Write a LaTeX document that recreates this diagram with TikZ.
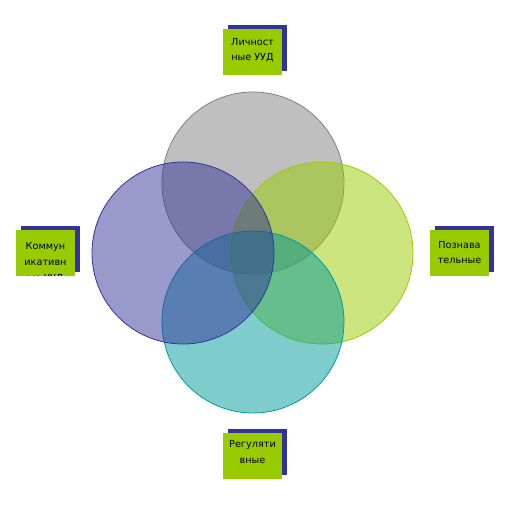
\documentclass[tikz,border=0pt]{standalone}
\usepackage{fontspec}
\setmainfont{DejaVu Sans}
\usetikzlibrary{shadows}
\definecolor{uudgreen}{RGB}{153,204,0}
\definecolor{uudblue}{RGB}{51,51,153}
\definecolor{uudteal}{RGB}{0,153,153}
\definecolor{uudgray}{RGB}{128,128,128}
\begin{document}
\begin{tikzpicture}[x=1pt, y=-1pt,
    ring/.style={line width=0.8pt, fill opacity=0.5},
    uudbox/.style={fill=uudgreen, minimum width=59pt, minimum height=46pt, inner sep=0pt,
        drop shadow={shadow xshift=4.5pt, shadow yshift=4pt, fill=uudblue, opacity=1}},
    uudtext/.style={font=\fontsize{9.7}{15.5}\selectfont, align=center, inner sep=0pt}]
    \useasboundingbox (0,0) rectangle (507,507);

    % --- Centres of the four circles ---
    \coordinate (T) at (253,183);
    \coordinate (L) at (183,253);
    \coordinate (R) at (322,253);
    \coordinate (B) at (253,322);

    % --- Four translucent circles ---
    \draw[ring, draw=uudgray, fill=uudgray] (T) circle [radius=91pt];
    \draw[ring, draw=uudgreen, fill=uudgreen] (R) circle [radius=91pt];
    \draw[ring, draw=uudteal, fill=uudteal] (B) circle [radius=91pt];
    \draw[ring, draw=uudblue, fill=uudblue] (L) circle [radius=91pt];

    % --- Label boxes with shadow ---
    \node[uudbox] (lich) at (252.5,51.5) {};
    \node[uudtext] at ([yshift=1.5pt]lich.center) {Личност\\ные УУД};

    \node[uudbox] (komm) at (45.5,252.5) {};
    \begin{scope}
        \clip (komm.south west) rectangle (komm.north east);
        \node[uudtext, font=\fontsize{9.7}{16}\selectfont] at ([yshift=-10pt]komm.center) {Коммун\\икативн\\ые УУД};
    \end{scope}

    \node[uudbox] (pozn) at (459.5,252.5) {};
    \node[uudtext] at ([yshift=0pt]pozn.center) {Познава\\тельные};

    \node[uudbox] (regu) at (252.5,456) {};
    \node[uudtext] at ([yshift=4pt]regu.center) {Регуляти\\вные};
\end{tikzpicture}
\end{document}
